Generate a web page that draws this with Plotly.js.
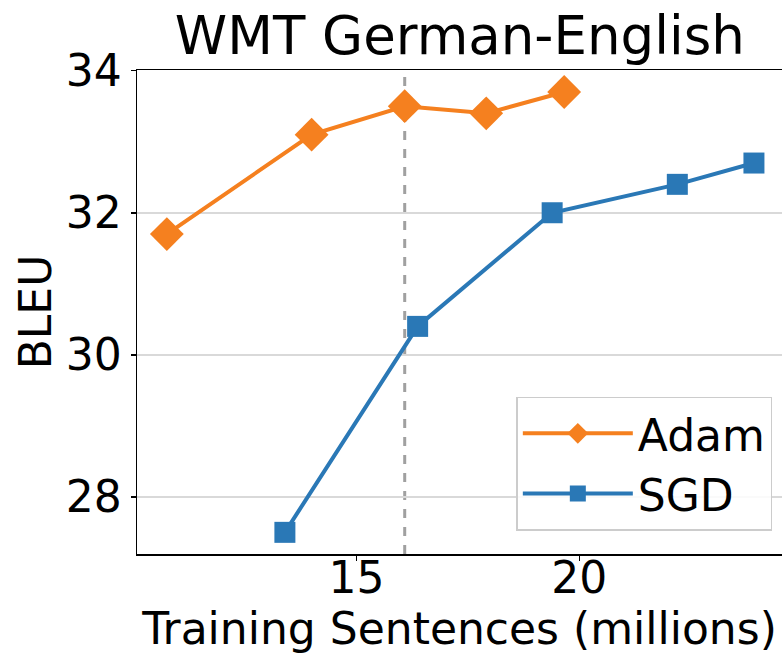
<!DOCTYPE html>
<html>
<head>
<meta charset="utf-8">
<script src="https://cdn.plot.ly/plotly-3.0.1.min.js"></script>
<style>html,body{margin:0;padding:0;background:#fff;}#chart{width:782px;height:656px;}</style>
</head>
<body>
<div id="chart"></div>
<script>
const adamX = [10.74, 13.99, 16.08, 17.91, 19.66];
const adamY = [31.7, 33.1, 33.5, 33.4, 33.7];
const sgdX = [13.39, 16.37, 19.39, 22.2, 23.92];
const sgdY = [27.5, 30.4, 32.0, 32.4, 32.7];
const markerLineX = 16.08;
const yTicks = [28, 30, 32, 34];
const xTicks = [15, 20];
const titleText = "WMT German-English";
const xTitle = "Training Sentences (millions)";
const yTitle = "BLEU";

const font = "DejaVu Sans, sans-serif";

const traces = [
  {x: adamX, y: adamY, name: "Adam", type: "scatter", mode: "lines+markers",
   line: {color: "#f5801f", width: 4},
   marker: {symbol: "diamond", size: 26, color: "#f5801f"}},
  {x: sgdX, y: sgdY, name: "SGD", type: "scatter", mode: "lines+markers",
   line: {color: "#2a78b6", width: 4},
   marker: {symbol: "square", size: 21, color: "#2a78b6"}}
];

const layout = {
  width: 782, height: 656,
  margin: {l: 137, r: 0, t: 70, b: 102},
  paper_bgcolor: "#fff", plot_bgcolor: "#fff",
  font: {family: font, color: "#000", size: 44},
  title: {text: titleText, font: {family: font, size: 53, color: "#000"}, x: 0.588, xanchor: "center", y: 0.975, yanchor: "top"},
  showlegend: true,
  legend: {x: 0.985, xanchor: "right", y: 0.048, yanchor: "bottom",
    bgcolor: "rgba(255,255,255,0.85)", bordercolor: "#cccccc", borderwidth: 1.5,
    font: {family: font, size: 44, color: "#000"}, itemwidth: 110,
    tracegroupgap: 0},
  xaxis: {range: [10.07, 24.55], tickvals: xTicks, ticktext: xTicks.map(String),
    showgrid: false, zeroline: false, showline: true, linecolor: "#000", linewidth: 1.5, mirror: true,
    ticks: "outside", ticklen: 5, tickwidth: 1.5, tickcolor: "#000",
    ticklabelstandoff: -20,
    tickfont: {family: font, size: 44},
    title: {text: xTitle, font: {family: font, size: 44}, standoff: 4}},
  yaxis: {range: [27.195, 34.01], tickvals: yTicks, ticktext: yTicks.map(String),
    showgrid: true, gridcolor: "#d9d9d9", gridwidth: 2, zeroline: false,
    showline: true, linecolor: "#000", linewidth: 1.5, mirror: true,
    ticks: "outside", ticklen: 5, tickwidth: 1.5, tickcolor: "#000",
    tickfont: {family: font, size: 44},
    title: {text: yTitle, font: {family: font, size: 44}, standoff: 0}},
  shapes: [{type: "line", xref: "x", yref: "paper", x0: markerLineX, x1: markerLineX, y0: 0, y1: 1,
    line: {color: "#a0a0a0", width: 3, dash: "dash"}, layer: "below"}]
};

Plotly.newPlot("chart", traces, layout, {displayModeBar: false, staticPlot: true});
</script>
</body>
</html>
